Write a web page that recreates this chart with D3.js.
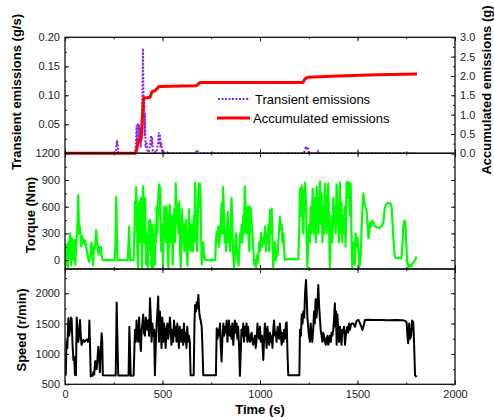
<!DOCTYPE html>
<html>
  <head>
    <meta charset="utf-8">
    <title>Emissions, torque and speed</title>
    <style>
      body { margin: 0; background: #fff; }
      svg { font-family: "Liberation Sans", Arial, sans-serif; }
      .axis text { font-size: 11px; fill: #222; }
      .axis path { display: none; }
      .axis line { stroke: #222; stroke-width: 1; }
      .title { font-size: 13px; font-weight: bold; fill: #000; }
      .legend text { font-size: 13px; fill: #000; }
    </style>
    <script src="https://d3js.org/d3.v7.min.js"></script>
  </head>
  <body>
    <script>

        // ---- data ----
        var timeTicks = [0, 500, 1000, 1500, 2000];
        var transientTicks = [0.05, 0.10, 0.15, 0.20];
        var accumTicks = [0.0, 0.5, 1.0, 1.5, 2.0, 2.5, 3.0];
        var torqueTicks = [0, 300, 600, 900, 1200];
        var speedTicks = [500, 1000, 1500, 2000];

        // transient emissions (g/s) : [time, value]
        var transient = [[0,0],[255,0],[262,0.004],[266,0.023],[268,0.012],[270,0.02],[273,0],[360,0],[364,0.02],
            [367,0.048],[370,0.01],[373,0.052],[376,0.015],[379,0.05],[382,0.02],[385,0.045],[388,0.01],[391,0.03],
            [394,0.06],[397,0.09],[400,0.181],[402,0.12],[404,0.06],[406,0.098],[408,0.03],[410,0.07],[413,0.01],
            [418,0.02],[422,0.005],[430,0.002],[438,0.02],[441,0.031],[444,0.012],[447,0.028],[450,0.004],[470,0.002],
            [478,0.02],[481,0.036],[484,0.015],[487,0.033],[490,0.01],[494,0.018],[498,0.002],[525,0.001],[530,0.003],
            [535,0],[670,0],[676,0.006],[680,0.004],[686,0.002],[692,0],[1225,0],[1232,0.008],[1237,0.012],
            [1241,0.006],[1245,0.011],[1250,0.001],[1295,0],[1299,0.003],[1303,0],[1805,0]];

        // accumulated emissions (g)
        var accumulated = [[0,0],[362,0],[370,0.15],[376,0.34],[390,0.35],[396,0.8],[402,1.42],[436,1.45],[447,1.6],
            [462,1.62],[482,1.73],[674,1.75],[692,1.83],[1220,1.83],[1230,1.92],[1245,1.97],[1400,2.0],[1600,2.03],
            [1805,2.05]];

        // torque (Nm)
        var torque = [[0,150],[3,180],[6,-60],[9,170],[12,100],[15,-80],[18,200],[22,120],[26,300],[29,50],[32,-60],
            [35,250],[38,100],[41,220],[44,0],[47,150],[50,230],[53,-50],[56,100],[60,250],[64,400],[68,730],[72,300],
            [76,380],[80,250],[84,150],[88,270],[92,200],[96,230],[100,180],[104,220],[108,150],[112,100],[116,60],
            [120,0],[124,-20],[128,30],[132,100],[136,200],[140,80],[144,-60],[148,150],[152,120],[156,200],[160,337],
            [164,200],[168,150],[172,60],[176,150],[180,110],[184,150],[188,50],[192,10],[196,0],[255,0],[259,200],
            [263,710],[266,300],[269,0],[322,0],[326,200],[329,375],[332,100],[335,0],[352,0],[356,300],[359,660],
            [362,400],[365,820],[368,600],[371,200],[374,-80],[377,300],[380,650],[383,200],[386,500],[389,700],
            [392,300],[395,-80],[398,600],[401,830],[404,500],[407,200],[410,700],[413,400],[416,-50],[419,300],
            [422,100],[425,-80],[428,200],[431,440],[434,100],[437,450],[440,300],[443,-80],[446,200],[449,400],
            [452,-80],[455,100],[458,300],[461,-50],[464,400],[467,200],[470,600],[474,300],[478,700],[482,850],
            [485,500],[488,820],[491,400],[494,100],[497,400],[500,250],[503,-60],[506,350],[509,600],[512,300],
            [515,520],[518,200],[521,600],[524,470],[527,100],[530,-80],[533,300],[537,620],[540,400],[544,200],
            [548,500],[552,-50],[556,300],[560,570],[564,200],[568,862],[571,600],[574,400],[578,620],[582,300],
            [586,660],[590,100],[594,-80],[597,300],[600,570],[604,200],[608,400],[612,100],[616,300],[620,450],
            [624,100],[628,-60],[632,300],[636,570],[640,200],[644,100],[648,400],[652,300],[656,100],[660,500],
            [664,200],[667,870],[670,500],[674,300],[678,100],[682,600],[685,860],[689,600],[692,860],[695,700],
            [698,300],[701,-50],[705,100],[709,200],[713,50],[718,0],[770,0],[774,200],[778,320],[782,200],[786,380],
            [790,150],[794,260],[798,400],[803,640],[807,300],[811,820],[815,500],[819,200],[823,300],[827,100],
            [831,400],[835,540],[839,200],[843,300],[847,100],[851,500],[854,700],[858,400],[862,100],[866,-80],
            [870,0],[874,200],[878,300],[882,100],[886,0],[890,-60],[894,100],[898,300],[902,200],[906,400],[910,200],
            [914,500],[918,300],[922,830],[926,600],[930,300],[934,500],[938,600],[942,200],[946,100],[949,600],
            [952,580],[957,400],[962,262],[966,100],[970,-50],[975,0],[980,-80],[985,50],[990,-30],[996,200],
            [1000,100],[1005,300],[1010,150],[1015,250],[1020,200],[1026,375],[1030,100],[1034,300],[1039,200],
            [1043,400],[1047,100],[1051,562],[1056,300],[1060,580],[1064,200],[1068,-80],[1072,100],[1077,200],
            [1081,0],[1085,100],[1090,50],[1094,200],[1102,487],[1106,350],[1111,400],[1115,200],[1120,300],
            [1124,100],[1128,0],[1132,10],[1196,10],[1201,300],[1205,806],[1210,500],[1214,840],[1218,600],
            [1222,300],[1226,700],[1231,870],[1235,700],[1239,300],[1243,-80],[1247,200],[1252,400],[1256,200],
            [1260,600],[1265,300],[1270,800],[1274,500],[1278,300],[1282,700],[1286,200],[1291,825],[1295,500],
            [1299,300],[1303,700],[1308,881],[1312,400],[1316,750],[1320,200],[1325,600],[1329,300],[1333,860],
            [1337,500],[1342,300],[1346,700],[1350,860],[1354,400],[1358,-80],[1363,300],[1367,500],[1371,200],
            [1376,700],[1380,400],[1384,600],[1388,300],[1393,850],[1397,600],[1401,400],[1405,200],[1410,870],
            [1414,300],[1418,650],[1422,200],[1427,500],[1431,300],[1435,600],[1439,150],[1444,870],[1448,880],
            [1452,700],[1456,870],[1461,500],[1465,860],[1469,300],[1473,-80],[1478,100],[1482,200],[1486,-50],
            [1490,300],[1496,150],[1500,250],[1505,100],[1509,-80],[1513,-50],[1517,100],[1522,400],[1526,600],
            [1530,750],[1535,650],[1540,600],[1547,543],[1552,400],[1556,244],[1560,300],[1564,420],[1570,380],
            [1575,440],[1581,430],[1588,380],[1598,370],[1610,360],[1624,380],[1632,420],[1641,600],[1650,635],
            [1660,640],[1668,640],[1675,600],[1680,400],[1684,250],[1690,60],[1695,25],[1725,20],[1730,150],
            [1735,380],[1740,440],[1745,430],[1750,200],[1754,0],[1758,-60],[1762,-80],[1768,-50],[1775,-70],
            [1782,-40],[1790,-20],[1797,10],[1803,40]];

        // engine speed (r/min)
        var speed = [[0,640],[4,660],[8,1200],[12,1100],[17,1590],[21,1300],[26,1400],[30,1600],[34,1580],[38,1200],
            [43,900],[47,950],[51,655],[56,650],[60,1600],[64,1400],[68,1200],[72,1300],[77,1560],[81,1300],[85,1150],
            [90,1200],[94,1230],[100,1200],[106,1220],[112,1240],[118,1200],[122,1210],[125,1550],[128,1200],[132,630],
            [137,650],[141,640],[145,700],[150,660],[154,875],[158,880],[162,750],[166,900],[171,1120],[175,950],
            [179,700],[184,1100],[188,1340],[191,1200],[194,650],[260,645],[265,1846],[269,1200],[273,645],[326,645],
            [330,1450],[334,1000],[337,640],[352,645],[356,1100],[359,1400],[363,1200],[367,1550],[371,1300],
            [376,1200],[380,1600],[384,1300],[389,1050],[393,1400],[397,1500],[401,1650],[405,1350],[410,1300],
            [414,1600],[418,1550],[422,1400],[427,1550],[431,1300],[436,1918],[440,1600],[444,1200],[448,1500],
            [453,1300],[457,1400],[461,650],[465,1100],[470,1506],[474,1700],[478,1945],[482,1200],[487,1700],
            [491,1400],[495,1100],[499,1600],[504,1200],[508,1500],[512,1400],[516,1100],[521,1400],[525,1500],
            [529,1250],[533,1350],[538,1600],[542,1400],[546,1150],[550,1400],[555,1200],[559,1550],[563,1300],
            [567,1450],[572,1200],[576,1500],[580,1350],[584,1100],[589,1450],[593,1300],[597,1200],[601,1400],
            [606,1150],[610,1500],[614,1200],[618,1350],[623,1100],[627,1450],[631,1200],[636,1300],[640,1200],
            [644,650],[660,650],[664,1500],[667,1808],[671,1700],[675,1850],[679,1750],[684,1973],[688,1700],
            [692,1600],[696,1550],[701,1450],[705,1100],[709,650],[774,650],[778,1424],[782,1250],[786,1400],
            [790,1300],[795,1500],[799,1100],[803,875],[807,1250],[812,1500],[816,1300],[820,1450],[824,1350],
            [829,1550],[833,1200],[837,1400],[841,1550],[846,1300],[850,1450],[854,1250],[858,1500],[863,1150],
            [867,1400],[871,1550],[875,1350],[880,1500],[884,1250],[888,1450],[893,1100],[897,639],[901,1000],
            [905,1400],[909,1300],[914,1500],[918,1200],[922,1450],[926,1300],[931,1500],[935,1200],[939,1450],
            [943,1250],[948,1200],[952,1300],[957,1350],[961,1200],[965,1150],[970,1250],[974,1300],[978,1100],
            [983,1250],[987,1500],[991,1350],[996,1250],[1000,1450],[1004,1200],[1010,1300],[1017,902],[1021,1250],
            [1025,1500],[1030,1300],[1034,1100],[1038,1450],[1042,1300],[1047,1150],[1051,1350],[1055,1200],
            [1060,1300],[1064,1100],[1068,1400],[1072,1550],[1077,1300],[1081,1350],[1085,1200],[1090,1450],
            [1094,1400],[1098,1250],[1102,1500],[1107,1300],[1111,1150],[1115,1350],[1120,1200],[1124,1400],
            [1128,1250],[1133,1500],[1137,1520],[1141,1000],[1145,650],[1202,650],[1205,1400],[1210,1300],
            [1214,1650],[1218,1500],[1222,1700],[1227,1600],[1231,2000],[1236,2220],[1240,1900],[1243,1600],
            [1247,1450],[1251,1300],[1256,1200],[1260,1500],[1264,1350],[1268,1200],[1273,1400],[1277,1700],
            [1281,1500],[1285,1900],[1290,1600],[1294,1800],[1299,2137],[1303,1800],[1307,1600],[1311,1400],
            [1316,1300],[1320,1200],[1324,1350],[1328,1300],[1333,1200],[1337,1150],[1341,1250],[1346,1300],
            [1350,1150],[1354,1200],[1358,1300],[1363,1200],[1367,1350],[1371,1300],[1376,1400],[1380,1600],
            [1384,1835],[1387,1450],[1390,1700],[1393,1150],[1397,1650],[1401,1400],[1405,1200],[1410,1450],
            [1414,1300],[1418,1150],[1422,1400],[1427,1350],[1431,1450],[1436,1150],[1440,1300],[1444,1400],
            [1448,1450],[1452,1350],[1457,1500],[1461,1400],[1466,1480],[1470,1500],[1478,1500],[1487,1450],
            [1496,1550],[1505,1560],[1513,1500],[1520,1450],[1525,1396],[1530,1450],[1538,1560],[1547,1565],
            [1580,1560],[1620,1560],[1660,1555],[1700,1560],[1730,1555],[1745,1545],[1752,1520],[1756,1300],
            [1760,1177],[1765,1500],[1770,1250],[1775,1300],[1780,1550],[1786,1520],[1790,1200],[1795,650],
            [1803,620]];

        // ---- layout ----
        var width = 494, height = 417;
        var left = 65, right = 455;
        var panels = {
            top: [37.3, 153.3],
            mid: [153.3, 269],
            bot: [269, 384.3]
        };

        var svg = d3.select("body").append("svg")
            .attr("width", width)
            .attr("height", height);

        var x = d3.scaleLinear().domain([0, 2000]).range([left, right]);
        var yTrans = d3.scaleLinear().domain([0, 0.20]).range([panels.top[1], panels.top[0]]);
        var yAccum = d3.scaleLinear().domain([0, 3.0]).range([panels.top[1], panels.top[0]]);
        var yTorque = d3.scaleLinear().domain([-100, 1200]).range([panels.mid[1], panels.mid[0]]);
        var ySpeed = d3.scaleLinear().domain([500, 2400]).range([panels.bot[1], panels.bot[0]]);

        function minors(lo, hi, step) {
            var out = [];
            for (var v = lo; v <= hi + 1e-9; v += step) out.push(+v.toFixed(6));
            return out;
        }

        // clip paths per panel
        var defs = svg.append("defs");
        Object.keys(panels).forEach(function (k) {
            defs.append("clipPath").attr("id", "clip-" + k)
                .append("rect")
                .attr("x", left).attr("y", panels[k][0])
                .attr("width", right - left).attr("height", panels[k][1] - panels[k][0]);
        });

        // axes for one panel: inward ticks on all four sides
        function frameAxes(key, yScale, yMajor, yMinor, yFmt, showX) {
            var y0 = panels[key][0], y1 = panels[key][1];

            svg.append("g").attr("class", "axis").attr("transform", "translate(0," + y1 + ")")
                .call(d3.axisBottom(x).tickValues(minors(0, 2000, 250)).tickSize(-2).tickFormat(""));
            svg.append("g").attr("class", "axis").attr("transform", "translate(0," + y1 + ")")
                .call(d3.axisBottom(x).tickValues(timeTicks).tickSize(-4).tickPadding(6)
                    .tickFormat(showX ? d3.format("d") : ""));
            svg.append("g").attr("class", "axis").attr("transform", "translate(0," + y0 + ")")
                .call(d3.axisTop(x).tickValues(minors(0, 2000, 250)).tickSize(-2).tickFormat(""));
            svg.append("g").attr("class", "axis").attr("transform", "translate(0," + y0 + ")")
                .call(d3.axisTop(x).tickValues(timeTicks).tickSize(-4).tickFormat(""));

            svg.append("g").attr("class", "axis").attr("transform", "translate(" + left + ",0)")
                .call(d3.axisLeft(yScale).tickValues(yMinor).tickSize(-2).tickFormat(""));
            svg.append("g").attr("class", "axis").attr("transform", "translate(" + left + ",0)")
                .call(d3.axisLeft(yScale).tickValues(yMajor).tickSize(-4).tickPadding(5).tickFormat(yFmt));

            svg.append("rect")
                .attr("x", left).attr("y", y0)
                .attr("width", right - left).attr("height", y1 - y0)
                .attr("fill", "none").attr("stroke", "#111").attr("stroke-width", 1.3);
        }

        function mirrorRight(yScale, yMajor, yMinor, fmt) {
            svg.append("g").attr("class", "axis").attr("transform", "translate(" + right + ",0)")
                .call(d3.axisRight(yScale).tickValues(yMinor).tickSize(-2).tickFormat(""));
            svg.append("g").attr("class", "axis").attr("transform", "translate(" + right + ",0)")
                .call(d3.axisRight(yScale).tickValues(yMajor).tickSize(-4).tickPadding(5).tickFormat(fmt));
        }

        var line = function (ys) {
            return d3.line().x(function (d) { return x(d[0]); }).y(function (d) { return ys(d[1]); });
        };

        // ---- top panel: emissions ----
        svg.append("path").datum(transient)
            .attr("clip-path", "url(#clip-top)")
            .attr("d", line(yTrans))
            .attr("fill", "none").attr("stroke", "#8a2be2")
            .attr("stroke-width", 2).attr("stroke-dasharray", "2,1.5");

        svg.append("path").datum(accumulated)
            .attr("d", line(yAccum))
            .attr("fill", "none").attr("stroke", "#ff0000")
            .attr("stroke-width", 3).attr("stroke-linejoin", "round");

        frameAxes("top", yTrans, transientTicks, minors(0.025, 0.2, 0.025), d3.format(".2f"), false);
        mirrorRight(yAccum, accumTicks, minors(0.25, 3.0, 0.25), d3.format(".1f"));

        // ---- middle panel: torque ----
        svg.append("path").datum(torque)
            .attr("clip-path", "url(#clip-mid)")
            .attr("d", line(yTorque))
            .attr("fill", "none").attr("stroke", "#00ff00")
            .attr("stroke-width", 2.2).attr("stroke-linejoin", "round");

        frameAxes("mid", yTorque, torqueTicks, minors(150, 1200, 150), d3.format("d"), false);
        mirrorRight(yTorque, torqueTicks, minors(150, 1200, 150), "");

        // ---- bottom panel: speed ----
        svg.append("path").datum(speed)
            .attr("clip-path", "url(#clip-bot)")
            .attr("d", line(ySpeed))
            .attr("fill", "none").attr("stroke", "#000")
            .attr("stroke-width", 2).attr("stroke-linejoin", "round");

        frameAxes("bot", ySpeed, speedTicks, minors(750, 2250, 250), d3.format("d"), true);
        mirrorRight(ySpeed, speedTicks, minors(750, 2250, 250), "");

        // ---- legend ----
        var legend = svg.append("g").attr("class", "legend");
        legend.append("line").attr("x1", 218).attr("x2", 250).attr("y1", 99).attr("y2", 99)
            .attr("stroke", "#8a2be2").attr("stroke-width", 2).attr("stroke-dasharray", "2,1.5");
        legend.append("text").attr("x", 255).attr("y", 103.5).text("Transient emissions");
        legend.append("line").attr("x1", 217).attr("x2", 250).attr("y1", 118).attr("y2", 118)
            .attr("stroke", "#ff0000").attr("stroke-width", 3);
        legend.append("text").attr("x", 253).attr("y", 122.5).text("Accumulated emissions");

        // ---- axis titles ----
        function vtitle(tx, ty, label) {
            svg.append("text").attr("class", "title")
                .attr("transform", "translate(" + tx + "," + ty + ") rotate(-90)")
                .attr("text-anchor", "middle").text(label);
        }
        vtitle(21, 92, "Transient emissions (g/s)");
        vtitle(35, 215, "Torque (Nm)");
        vtitle(26, 330, "Speed (r/min)");
        vtitle(491, 90, "Accumulated emissions (g)");

        svg.append("text").attr("class", "title")
            .attr("x", 260).attr("y", 414).attr("text-anchor", "middle").text("Time (s)");

    </script>
  </body>
</html>
